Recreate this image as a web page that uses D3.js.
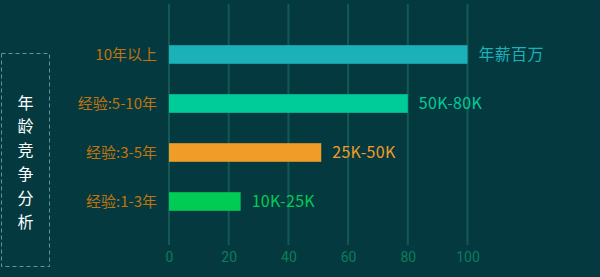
<!DOCTYPE html>
<html>
<head>
<meta charset="utf-8">
<script src="https://cdn.jsdelivr.net/npm/d3@7"></script>
<style>
  body { margin: 0; background: #043a3f; }
  svg { display: block; }
</style>
</head>
<body>
<svg id="chart"></svg>
<script>
// Données du graphique
const categories = ['10年以上', '经验:5-10年', '经验:3-5年', '经验:1-3年'];
const values = [100, 80, 51, 24];
const salaryLabels = ['年薪百万', '50K-80K', '25K-50K', '10K-25K'];
const barColors = ['#1ab1b8', '#00cc99', '#f09c28', '#00cc55'];
const xTicks = [0, 20, 40, 60, 80, 100];
const titleChars = ['年', '龄', '竞', '争', '分', '析'];

const width = 600, height = 277;
const margin = { top: 4, right: 132, bottom: 32, left: 169 };

const svg = d3.select('#chart')
    .attr('width', width)
    .attr('height', height);

const xScale = d3.scaleLinear()
    .domain([0, 100])
    .range([margin.left, width - margin.right - 0.5]);

const yScale = d3.scaleBand()
    .domain(categories)
    .range([30, 226])
    .paddingInner(0.62)
    .paddingOuter(0.31);

// Grille verticale
svg.append('g')
    .selectAll('line')
    .data(xTicks)
    .enter()
    .append('line')
    .attr('x1', d => xScale(d))
    .attr('x2', d => xScale(d))
    .attr('y1', margin.top)
    .attr('y2', height - margin.bottom)
    .attr('stroke', '#135a53')
    .attr('stroke-width', 2);

// Axe X
const xAxis = svg.append('g')
    .attr('transform', `translate(0,${height - margin.bottom})`)
    .call(d3.axisBottom(xScale).tickValues(xTicks).tickSize(0).tickPadding(7));
xAxis.select('.domain').remove();
xAxis.selectAll('text')
    .attr('fill', '#0b7d5a')
    .style('font-family', 'Roboto, sans-serif')
    .style('font-size', '14px');

// Barres
svg.append('g')
    .selectAll('rect')
    .data(values)
    .enter()
    .append('rect')
    .attr('x', xScale(0))
    .attr('y', (d, i) => yScale(categories[i]))
    .attr('width', d => xScale(d) - xScale(0))
    .attr('height', yScale.bandwidth())
    .attr('fill', (d, i) => barColors[i]);

// Libellés des catégories
svg.append('g')
    .selectAll('text')
    .data(categories)
    .enter()
    .append('text')
    .attr('x', 157)
    .attr('y', d => yScale(d) + yScale.bandwidth() / 2)
    .attr('dy', '0.36em')
    .attr('text-anchor', 'end')
    .attr('fill', '#c0730f')
    .style('font-family', '"Noto Sans CJK SC", sans-serif')
    .style('font-size', '15px')
    .text(d => d);

// Libellés des salaires
svg.append('g')
    .selectAll('text')
    .data(values)
    .enter()
    .append('text')
    .attr('x', d => xScale(d) + 11)
    .attr('y', (d, i) => yScale(categories[i]) + yScale.bandwidth() / 2)
    .attr('dy', '0.37em')
    .attr('fill', (d, i) => barColors[i])
    .style('font-family', '"Noto Sans CJK SC", sans-serif')
    .style('font-size', '16px')
    .style('letter-spacing', '0.3px')
    .text((d, i) => salaryLabels[i]);

// Encadré du titre vertical
svg.append('rect')
    .attr('x', 1.5)
    .attr('y', 53.5)
    .attr('width', 48)
    .attr('height', 213)
    .attr('fill', 'none')
    .attr('stroke', '#5a9a98')
    .attr('stroke-width', 1)
    .attr('stroke-dasharray', '4,3');

svg.append('g')
    .selectAll('text')
    .data(titleChars)
    .enter()
    .append('text')
    .attr('x', 25.5)
    .attr('y', (d, i) => 103 + i * 23.8)
    .attr('dy', '0.35em')
    .attr('text-anchor', 'middle')
    .attr('fill', '#ffffff')
    .style('font-family', '"Noto Sans CJK SC", sans-serif')
    .style('font-size', '16px')
    .text(d => d);
</script>
</body>
</html>
